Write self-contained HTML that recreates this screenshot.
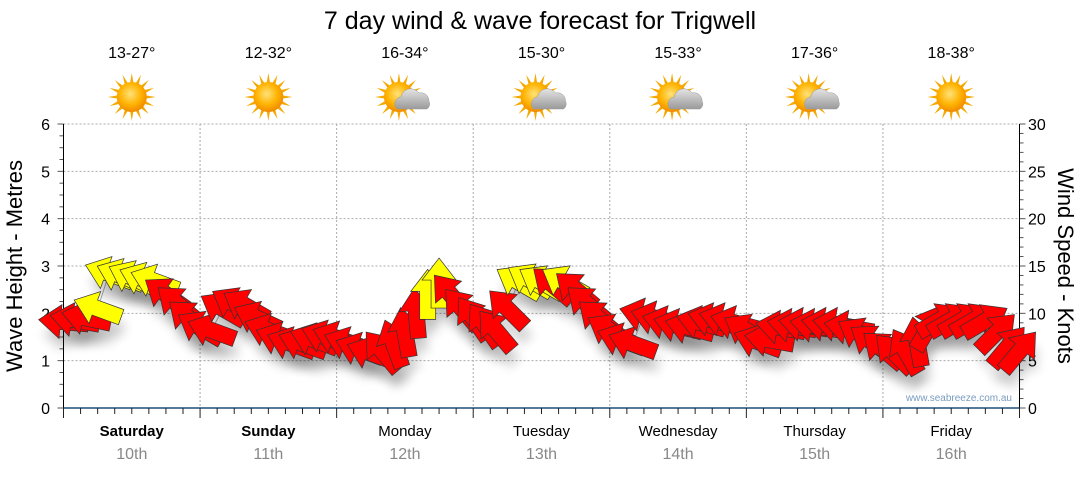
<!DOCTYPE html>
<html><head><meta charset="utf-8"><style>
body{margin:0;background:#fff;width:1080px;height:475px;overflow:hidden;font-family:"Liberation Sans",sans-serif}
</style></head><body>
<svg id="chart" width="1080" height="475" xmlns="http://www.w3.org/2000/svg" font-family="Liberation Sans, sans-serif">
<defs>
<radialGradient id="sunG" cx="45%" cy="40%" r="60%"><stop offset="0" stop-color="#ffe27a"/><stop offset="0.6" stop-color="#ffb300"/><stop offset="1" stop-color="#f08a00"/></radialGradient>
<linearGradient id="cloudG" x1="0" y1="0" x2="0" y2="1"><stop offset="0" stop-color="#e4e4e4"/><stop offset="1" stop-color="#9a9a9a"/></linearGradient>
<filter id="shadow" x="-50%" y="-50%" width="200%" height="200%"><feGaussianBlur stdDeviation="5"/></filter>
</defs>
<text x="540" y="29" font-size="25" text-anchor="middle" fill="#000">7 day wind &amp; wave forecast for Trigwell</text>
<g id="grid"></g><g id="axes"></g><g id="days"></g><g id="shadows"></g><g id="arrows"></g>
<text transform="translate(22,266) rotate(-90)" font-size="22" text-anchor="middle">Wave Height - Metres</text>
<text transform="translate(1058,266) rotate(90)" font-size="22" text-anchor="middle">Wind Speed - Knots</text>
<text x="1012" y="401" font-size="10" text-anchor="end" fill="#7a9cc0">www.seabreeze.com.au</text>
</svg>
<script>
const dayNames=["Saturday","Sunday","Monday","Tuesday","Wednesday","Thursday","Friday"];
const dayDates=["10th","11th","12th","13th","14th","15th","16th"];
const temps=["13-27°","12-32°","16-34°","15-30°","15-33°","17-36°","18-38°"];
const cloudy=[0,0,1,1,1,1,0];
// wind speed (knots) every 2 hours from Saturday 00:00
const windKnots=[9.1,9.3,9.5,10.5,14.2,14,13.8,13.6,13.4,12,11,9.5,8.5,8.2,10.5,11,10.8,9.5,8.2,7.3,6.8,6.8,7.2,7.5,7.4,6.8,6.2,5.8,6,6.8,8,10,12,13.2,12,10.5,9.5,8.8,8.2,10.5,13.3,13.5,13.3,13,13.3,12.5,11,9.5,8.2,7.2,6.8,9.8,9.5,9,8.7,8.5,9,9.3,9.3,9,8.2,7,7.2,8.5,8.7,8.8,8.7,8.8,8.8,8.5,7.8,7,6.2,5.8,6,7,8.5,9.3,9.3,9.3,9.3,9.2,8,6.5,6];
// arrow heading in degrees (0 = pointing right, 90 = pointing up)
const windDir=[175,170,168,160,160,158,155,158,160,145,140,140,150,160,150,150,150,155,160,160,160,160,160,160,160,160,160,160,130,110,100,95,90,90,130,130,125,125,130,135,150,150,150,140,150,140,140,140,150,160,160,165,165,165,165,165,165,165,165,165,150,160,170,170,170,170,170,170,170,170,150,145,140,135,120,100,60,30,30,30,30,30,45,50,50];
const windYellow=[0,0,0,1,1,1,1,1,1,0,0,0,0,0,0,0,0,0,0,0,0,0,0,0,0,0,0,0,0,0,0,0,1,1,0,0,0,0,0,0,1,1,1,0,1,0,0,0,0,0,0,0,0,0,0,0,0,0,0,0,0,0,0,0,0,0,0,0,0,0,0,0,0,0,0,0,0,0,0,0,0,0,0,0,0];
const leftTicks=[0,1,2,3,4,5,6];
const rightTicks=[0,5,10,15,20,25,30];

const NS="http://www.w3.org/2000/svg";
const X0=63.5,X1=1019.5,Y0=408,Y1=124,dayW=(X1-X0)/7;
const xHour=h=>X0+h*dayW/24;
const yM=m=>Y0-(Y0-Y1)*m/6;
const yK=k=>Y0-(Y0-Y1)*k/30;
function mk(tag,attrs,parent){const e=document.createElementNS(NS,tag);for(const k in attrs)e.setAttribute(k,attrs[k]);parent.appendChild(e);return e;}
const grid=document.getElementById('grid'),axes=document.getElementById('axes'),days=document.getElementById('days');
leftTicks.forEach(v=>{if(v>0){const l=mk('line',{x1:X0,x2:X1,y1:yM(v),y2:yM(v),stroke:'#aaa','stroke-dasharray':'2,2'},grid);

}
const t=mk('text',{x:50,y:yM(v)+6,'font-size':16,'text-anchor':'end',fill:'#000'},axes);t.textContent=v;

});
for(let m=0;m<=6;m+=0.25){mk('line',{x1:X0-(m%1===0?6:4),x2:X0,y1:yM(m),y2:yM(m),stroke:'#555'},axes);}
rightTicks.forEach(v=>{const t=mk('text',{x:1028,y:yK(v)+6,'font-size':16,fill:'#000'},axes);t.textContent=v;

});
for(let k=0;k<=30;k++){mk('line',{x1:X1,x2:X1+(k%5===0?6:4),y1:yK(k),y2:yK(k),stroke:'#555'},axes);}
mk('line',{x1:X0,x2:X0,y1:Y1,y2:Y0,stroke:'#000'},axes);
mk('line',{x1:X1,x2:X1,y1:Y1,y2:Y0,stroke:'#000'},axes);
mk('line',{x1:X0,x2:X1,y1:Y0,y2:Y0,stroke:'#1f4e79','stroke-width':1.5},axes);
for(let h=0;h<=168;h+=3){const x=xHour(h);mk('line',{x1:x,x2:x,y1:Y0,y2:Y0+(h%24===0?10:6),stroke:'#222'},axes);
if(h%24===0&&h>0&&h<168){const l=mk('line',{x1:x,x2:x,y1:Y1,y2:Y0,stroke:'#aaa','stroke-dasharray':'2,2'},grid);

}}
dayNames.forEach((d,i)=>{const cx=X0+dayW*(i+0.5);
const t=mk('text',{x:cx,y:436,'font-size':15,'text-anchor':'middle','font-weight':i<2?'bold':'normal'},days);t.textContent=d;


const t2=mk('text',{x:cx,y:459,'font-size':16,'text-anchor':'middle',fill:'#888'},days);t2.textContent=dayDates[i];


const t3=mk('text',{x:cx,y:58,'font-size':16,'text-anchor':'middle'},days);t3.textContent=temps[i];


const g=mk('g',{},days);


const sx=cx-(cloudy[i]?6:0),sy=97;
for(let r=0;r<16;r++){const a=r*Math.PI/8;const p=`${sx+Math.cos(a-0.12)*14},${sy+Math.sin(a-0.12)*14} ${sx+Math.cos(a)*24},${sy+Math.sin(a)*24} ${sx+Math.cos(a+0.12)*14},${sy+Math.sin(a+0.12)*14}`;mk('polygon',{points:p,fill:'#f5a800'},g);}
mk('circle',{cx:sx,cy:sy,r:15,fill:'url(#sunG)'},g);
if(cloudy[i]){mk('path',{d:`M${cx-8},${sy+12} a7,7 0 0 1 4,-12 a10,10 0 0 1 18,-4 a8,8 0 0 1 10,8 a6,6 0 0 1 -2,8 z`,fill:'url(#cloudG)',stroke:'#999','stroke-width':0.5},g);}
});
const shG=document.getElementById('shadows'),arrowsG=document.getElementById('arrows');
const pts=windKnots.map((k,i)=>[xHour(i*2),yK(k)]);
const pl=mk('polyline',{points:pts.map(p=>p.join(',')).join(' '),fill:'none',stroke:'#aaa','stroke-width':1},shG);


const shape="25,0 3,-17 3,-8 -25,-8 -25,8 3,8 3,17";
windKnots.forEach((k,i)=>{const x=xHour(i*2),y=yK(k),a=windDir[i];
const s=mk('polygon',{points:shape,transform:`translate(${x+3},${y+14}) rotate(${-a})`,fill:'#000',opacity:0.15,filter:'url(#shadow)'},shG);


const p=mk('polygon',{points:shape,transform:`translate(${x},${y}) rotate(${-a})`,fill:windYellow[i]?'#ffff00':'#ff0000',stroke:'#333','stroke-width':0.7},arrowsG);


});
</script>
</body></html>
